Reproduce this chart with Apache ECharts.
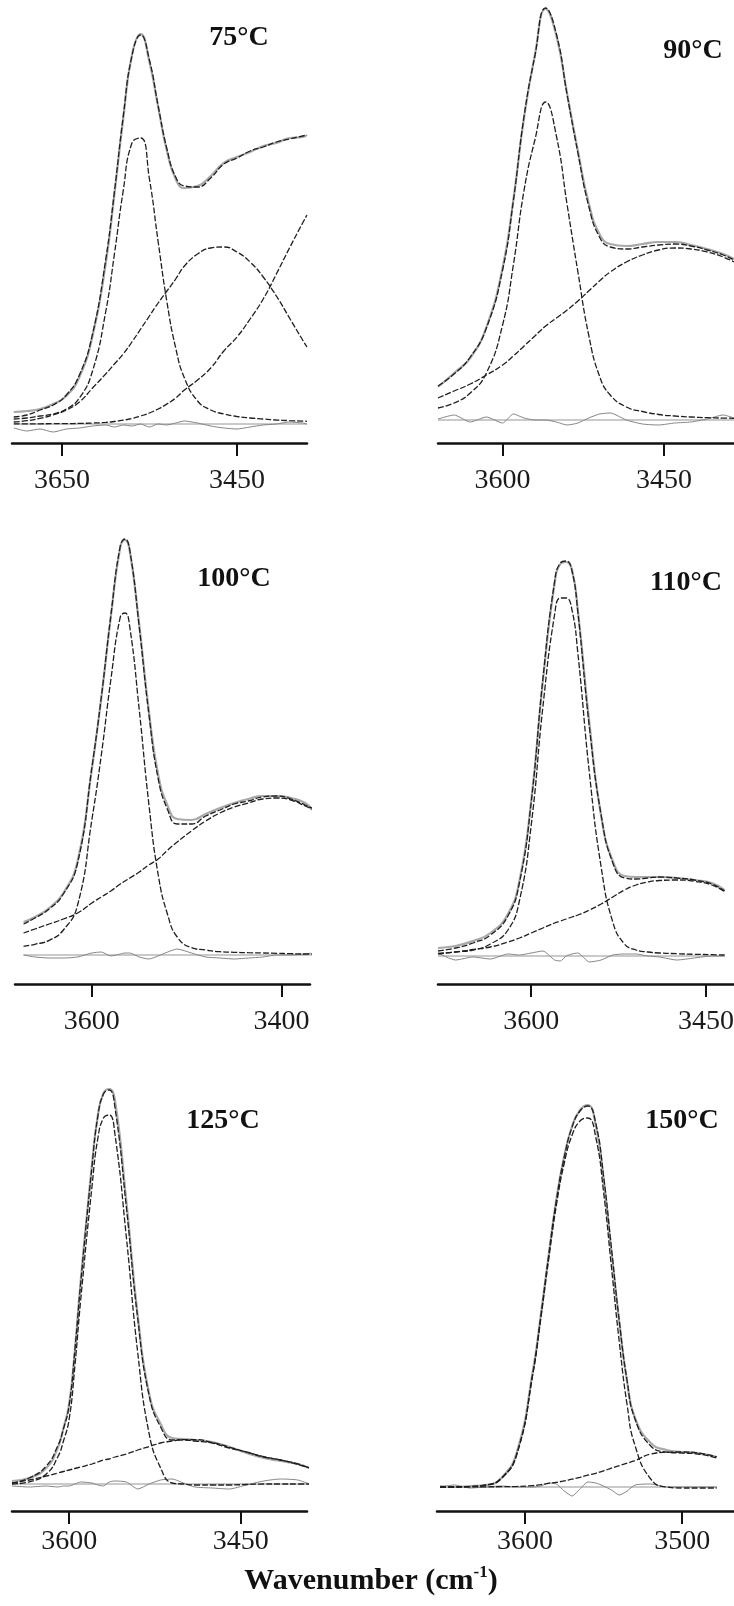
<!DOCTYPE html>
<html lang="en">
<head>
    <meta charset="utf-8" />
    <title>OH stretching band deconvolution</title>
    <script src="https://cdn.jsdelivr.net/npm/echarts@6.0.0/dist/echarts.min.js"></script>
    <style>
        html, body { margin: 0; padding: 0; background: #fff; }
        #main { width: 734px; height: 1606px; }
    </style>
</head>
<body>
    <div id="main"></div>
    <script type="text/javascript">
        // ---- data (wavenumber in cm-1, intensity in arbitrary units) ----
        // 75 °C
        var wn75 = [3705, 3690, 3675, 3660, 3645, 3630, 3615, 3600, 3590, 3580, 3570, 3560, 3550, 3540, 3530, 3520, 3510, 3495, 3480, 3465, 3450, 3435, 3420, 3405, 3390, 3375, 3370];
        var obs75 = [12, 13, 15, 20, 28, 47, 88, 160, 230, 305, 369, 390, 362, 317, 273, 245, 236, 238, 248, 261, 267, 272, 278, 281, 286, 287, 289];
        var fit75 = [7, 9, 14, 19, 29, 49, 90, 164, 232, 307, 368, 389, 364, 318, 275, 247, 238, 237, 246, 260, 266, 273, 277, 282, 285, 288, 289];
        var c1_75 = [5, 6, 8, 10, 15, 26, 53, 112, 170, 233, 281, 286, 245, 182, 122, 76, 46, 23, 14, 10, 7.5, 6, 5, 4, 3.4, 2.9, 2.7];
        var c2_75 = [2, 3.3, 5.6, 9, 14, 22, 36, 50, 60, 70, 82, 95, 108, 121, 133, 145, 158, 170, 176, 177, 172, 162, 147, 128, 106, 84, 77];
        var c3_75 = [0.1, 0.1, 0.2, 0.3, 0.4, 0.6, 1, 1.6, 2.5, 3.8, 5.5, 8, 11, 15, 20, 26, 34, 44, 56, 73, 87, 105, 125, 150, 176, 201, 209];
        var res75 = [-4, -7, -5, -8, -5, -4, -2, -1, -3, -1, -2, 0, -3, 0, -1, 1, 3, 1, -2, -4, -5, -3, -1, 0, 2, 1, 0];
        var ticks75 = [3650, 3450];

        // 90 °C
        var wn90 = [3660, 3645, 3630, 3615, 3600, 3590, 3580, 3570, 3560, 3550, 3540, 3530, 3520, 3510, 3500, 3485, 3470, 3455, 3440, 3425, 3410, 3395, 3385];
        var obs90 = [33, 47, 62, 93, 152, 220, 303, 365, 411, 384, 326, 269, 217, 186, 176, 174, 176, 178, 178, 175, 171, 166, 161];
        var fit90 = [34, 46, 63, 92, 150, 219, 304, 364, 412, 386, 325, 267, 214, 183, 173, 171, 173, 175, 176, 174, 170, 165, 160];
        var c1_90 = [12, 17, 27, 47, 95, 155, 230, 280, 318, 284, 215, 148, 85, 44, 25, 13, 8.5, 5.5, 4, 3, 2.3, 1.9, 1.7];
        var c2_90 = [22, 29, 36, 45, 55, 64, 74, 84, 94, 102, 110, 119, 129, 139, 148, 158, 165, 170, 172, 171, 168, 163, 158];
        var res90 = [1, 5, -2, 3, -3, 6, 2, 0, 0, -2, -5, -3, 2, 6, 7, 0, -4, -5, -3, -2, 1, 5, 2];
        var ticks90 = [3600, 3450];

        // 100 °C
        var wn100 = [3672, 3660, 3645, 3630, 3615, 3600, 3590, 3580, 3570, 3565, 3560, 3550, 3540, 3530, 3520, 3510, 3495, 3480, 3465, 3450, 3435, 3420, 3405, 3390, 3375, 3368];
        var obs100 = [33, 38, 47, 62, 94, 186, 257, 338, 408, 415, 404, 330, 245, 180, 149, 136, 135, 141, 147, 152, 156, 159, 159, 157, 152, 145];
        var fit100 = [31, 37, 46, 61, 92, 187, 258, 339, 409, 416, 405, 328, 242, 176, 145, 131, 131, 139, 145, 151, 154, 158, 159, 156, 150, 147];
        var c1_100 = [8.7, 10.7, 14.7, 25, 50, 135, 200, 275, 338, 342, 328, 245, 152, 80, 40, 18, 7.3, 5, 3.3, 2.7, 2.3, 2, 1.7, 1.3, 1, 1];
        var c2_100 = [22, 26, 31, 36, 42, 52, 58, 64, 71, 74, 77, 83, 90, 96, 105, 113, 124, 134, 142, 148, 152, 156, 157, 155, 149, 146];
        var res100 = [0, -2, -3, -3, -2, 2, 3, -1, 1, 2, 2, -2, -4, -1, 3, 6, 2, -2, -3, -4, -3, -2, 0, 0, 1, 2];
        var ticks100 = [3600, 3400];

        // 110 °C
        var wn110 = [3680, 3665, 3650, 3635, 3620, 3610, 3600, 3590, 3580, 3575, 3570, 3565, 3560, 3550, 3540, 3530, 3520, 3510, 3500, 3490, 3475, 3460, 3445, 3434];
        var obs110 = [8, 10, 15, 23, 42, 76, 155, 275, 372, 392, 394, 386, 346, 232, 140, 95, 80, 79, 79, 79, 78, 76, 73, 66];
        var fit110 = [5, 8, 13, 21, 40, 74, 154, 277, 374, 393, 395, 385, 344, 228, 141, 93, 78, 77, 78, 79, 78, 76, 72, 65];
        var c1_110 = [2, 4, 6, 12, 26, 56, 131, 249, 341, 358, 358, 346, 303, 182, 89, 34, 12, 6, 4, 3, 2.3, 1.7, 1.3, 1];
        var c2_110 = [2.7, 4, 6.5, 9, 14, 18, 23, 28, 33, 35, 37, 39, 41, 46, 52, 59, 66, 71, 74, 75.5, 76, 74.7, 71, 64.3];
        var res110 = [3, -4, -1, -3, 2, 1, 3, 5, -4, -5, 0, 2, 3, -6, -4, 1, 2, 2, 0, -1, -4, -2, 0, 0];
        var ticks110 = [3600, 3450];

        // 125 °C
        var wn125 = [3650, 3635, 3620, 3610, 3605, 3600, 3595, 3590, 3580, 3575, 3570, 3565, 3560, 3550, 3540, 3530, 3520, 3510, 3500, 3490, 3475, 3460, 3445, 3430, 3415, 3400, 3390];
        var obs125 = [3, 6, 16, 36, 56, 80, 134, 202, 320, 368, 391, 395, 384, 283, 168, 90, 60, 46, 45, 44, 42, 37, 31, 26, 23, 20, 16];
        var fit125 = [1, 6, 18, 38, 55, 79, 134, 200, 318, 367, 390, 394, 377, 277, 165, 88, 57, 44, 44, 43, 41, 36, 32, 27, 24, 20, 16];
        var c1_125 = [0, 2.2, 10, 27, 43, 65, 118, 183, 298, 345, 366, 369, 350, 247, 131, 50, 16, 1, 0, -1, -1, -1, -0.5, 0, 0, 0, 0];
        var c2_125 = [1, 4, 8, 11, 12.5, 14, 15.5, 17, 20, 22, 24, 25, 27, 30, 34, 37.5, 41, 43, 44.4, 44.4, 41.5, 37, 32, 27.4, 24, 19.5, 16.2];
        var res125 = [-2, -3, -2, -3, -2, -2, 0, 2, 1, -1, -2, 2, 3, 2, -5, 0, 4, 5, 1, -3, -4, -5, -1, 3, 5, 4, 0];
        var ticks125 = [3600, 3450];

        // 150 °C
        var wn150 = [3654, 3645, 3635, 3625, 3615, 3605, 3595, 3590, 3585, 3580, 3575, 3570, 3565, 3560, 3555, 3550, 3545, 3540, 3535, 3530, 3520, 3510, 3500, 3490, 3478];
        var obs150 = [1, 0, 1, 2, 9, 36, 116, 171, 231, 288, 331, 361, 377, 382, 362, 308, 236, 165, 105, 69, 44, 37, 35, 34, 30];
        var fit150 = [0, 0, 0.5, 2, 9, 34, 114, 170, 231, 287, 330, 360, 376, 381, 364, 311, 239, 166, 106, 68, 41, 35, 34, 33, 29];
        var c1_150 = [0, 0, 0.4, 1.8, 8.3, 33.6, 113, 168, 227, 282, 324, 352, 366, 369, 350, 295, 220, 145, 82, 41.5, 8, 0, -1, -1, -1];
        var c2_150 = [0, 0, 0.1, 0.2, 0.3, 0.6, 1.4, 2.3, 3.6, 4.7, 6.1, 7.9, 9.7, 11.9, 13.7, 16.2, 18.8, 21.3, 23.8, 26.4, 33, 34.7, 35, 34, 30.3];
        var res150 = [0, 2, -1, 0, 1, 0, 0, 1, 4, 3, -4, -9, -2, 5, 4, 1, -3, -8, -4, 2, 3, 0, 0, 0, 0];
        var ticks150 = [3600, 3500];

        var panels = [
            { name: '75°C', wn: wn75, obs: obs75, fit: fit75, comps: [c1_75, c2_75, c3_75], res: res75, ticks: ticks75 },
            { name: '90°C', wn: wn90, obs: obs90, fit: fit90, comps: [c1_90, c2_90], res: res90, ticks: ticks90 },
            { name: '100°C', wn: wn100, obs: obs100, fit: fit100, comps: [c1_100, c2_100], res: res100, ticks: ticks100 },
            { name: '110°C', wn: wn110, obs: obs110, fit: fit110, comps: [c1_110, c2_110], res: res110, ticks: ticks110 },
            { name: '125°C', wn: wn125, obs: obs125, fit: fit125, comps: [c1_125, c2_125], res: res125, ticks: ticks125 },
            { name: '150°C', wn: wn150, obs: obs150, fit: fit150, comps: [c1_150, c2_150], res: res150, ticks: ticks150 }
        ];

        // ---- layout of the six panels (pixels, axis ranges) ----
        var layout = [
            { left: 12, top: 20, width: 295, height: 423, xMin: 3370, xMax: 3707, yMin: -19, yMax: 404, tx: 239, ty: 38, lm: 24 },
            { left: 438, top: 5, width: 296, height: 438, xMin: 3385, xMax: 3660, yMin: -23, yMax: 415, tx: 693, ty: 51, lm: 24 },
            { left: 15, top: 520, width: 295, height: 464, xMin: 3370, xMax: 3681, yMin: -29, yMax: 435, tx: 234, ty: 579, lm: 24 },
            { left: 438, top: 520, width: 296, height: 464, xMin: 3426, xMax: 3680, yMin: -28, yMax: 436, tx: 686, ty: 583, lm: 24 },
            { left: 12, top: 1070, width: 295, height: 441, xMin: 3392, xMax: 3650, yMin: -27, yMax: 414, tx: 223, ty: 1121, lm: 17 },
            { left: 437, top: 1070, width: 297, height: 441, xMin: 3467, xMax: 3656, yMin: -24, yMax: 417, tx: 682, ty: 1121, lm: 17 }
        ];

        var serif = '"Liberation Serif", "Times New Roman", serif';
        var ink = '#1f1f1f';

        function pairs(xs, ys) {
            return xs.map(function (x, i) { return [x, ys[i]]; });
        }

        var grids = [], xAxes = [], yAxes = [], series = [], titles = [];

        panels.forEach(function (p, i) {
            var L = layout[i];
            grids.push({ left: L.left, top: L.top, width: L.width, height: L.height, containLabel: false, outerBoundsMode: 'none' });
            xAxes.push({
                type: 'value', gridIndex: i, inverse: true, min: L.xMin, max: L.xMax,
                splitLine: { show: false },
                axisLine: { show: true, onZero: false, lineStyle: { color: '#111', width: 2.5 } },
                axisTick: { show: true, length: 13, customValues: p.ticks, lineStyle: { color: '#111', width: 2 } },
                axisLabel: {
                    customValues: p.ticks, margin: L.lm, fontFamily: serif, fontSize: 28, color: '#1a1a1a',
                    formatter: function (v) { return String(v); }
                }
            });
            yAxes.push({ type: 'value', gridIndex: i, min: L.yMin, max: L.yMax, show: false, splitLine: { show: false } });

            var ends = [p.wn[0], p.wn[p.wn.length - 1]];
            var base = { type: 'line', xAxisIndex: i, yAxisIndex: i, showSymbol: false, symbol: 'none', silent: true, animation: false };

            series.push(Object.assign({}, base, {
                name: 'zero', data: [[ends[0], 0], [ends[1], 0]],
                lineStyle: { color: '#b9b9b9', width: 1.5 }
            }));
            series.push(Object.assign({}, base, {
                name: 'residual', data: pairs(p.wn, p.res), smooth: 0.2,
                lineStyle: { color: '#858585', width: 1 }
            }));
            series.push(Object.assign({}, base, {
                name: 'observed', data: pairs(p.wn, p.obs), smooth: true,
                lineStyle: { color: '#a9a9a9', width: 2.2 }
            }));
            p.comps.forEach(function (c, k) {
                series.push(Object.assign({}, base, {
                    name: 'component ' + (k + 1), data: pairs(p.wn, c), smooth: true,
                    lineStyle: { color: ink, width: 1.3, type: [6, 2] }
                }));
            });
            series.push(Object.assign({}, base, {
                name: 'fit', data: pairs(p.wn, p.fit), smooth: true,
                lineStyle: { color: ink, width: 1.3, type: [6, 2] }
            }));

            titles.push({
                text: p.name, left: L.tx, top: L.ty - 14, textAlign: 'center', padding: 0,
                textStyle: { fontFamily: serif, fontSize: 28, fontWeight: 'bold', color: '#111' }
            });
        });

        titles.push({
            text: '{b|Wavenumber (cm}{s|-1}{b|)}', left: 371, top: 1564, textAlign: 'center', padding: 0,
            textStyle: {
                rich: {
                    b: { fontFamily: serif, fontSize: 30, fontWeight: 'bold', color: '#111', lineHeight: 34 },
                    s: { fontFamily: serif, fontSize: 17, fontWeight: 'bold', color: '#111', verticalAlign: 'top', lineHeight: 34 }
                }
            }
        });

        var myChart = echarts.init(document.getElementById('main'), null, { renderer: 'canvas' });
        myChart.setOption({
            backgroundColor: '#ffffff',
            animation: false,
            title: titles,
            grid: grids,
            xAxis: xAxes,
            yAxis: yAxes,
            series: series
        });

        window.onresize = function () {
            myChart.resize();
        };
    </script>
</body>
</html>
